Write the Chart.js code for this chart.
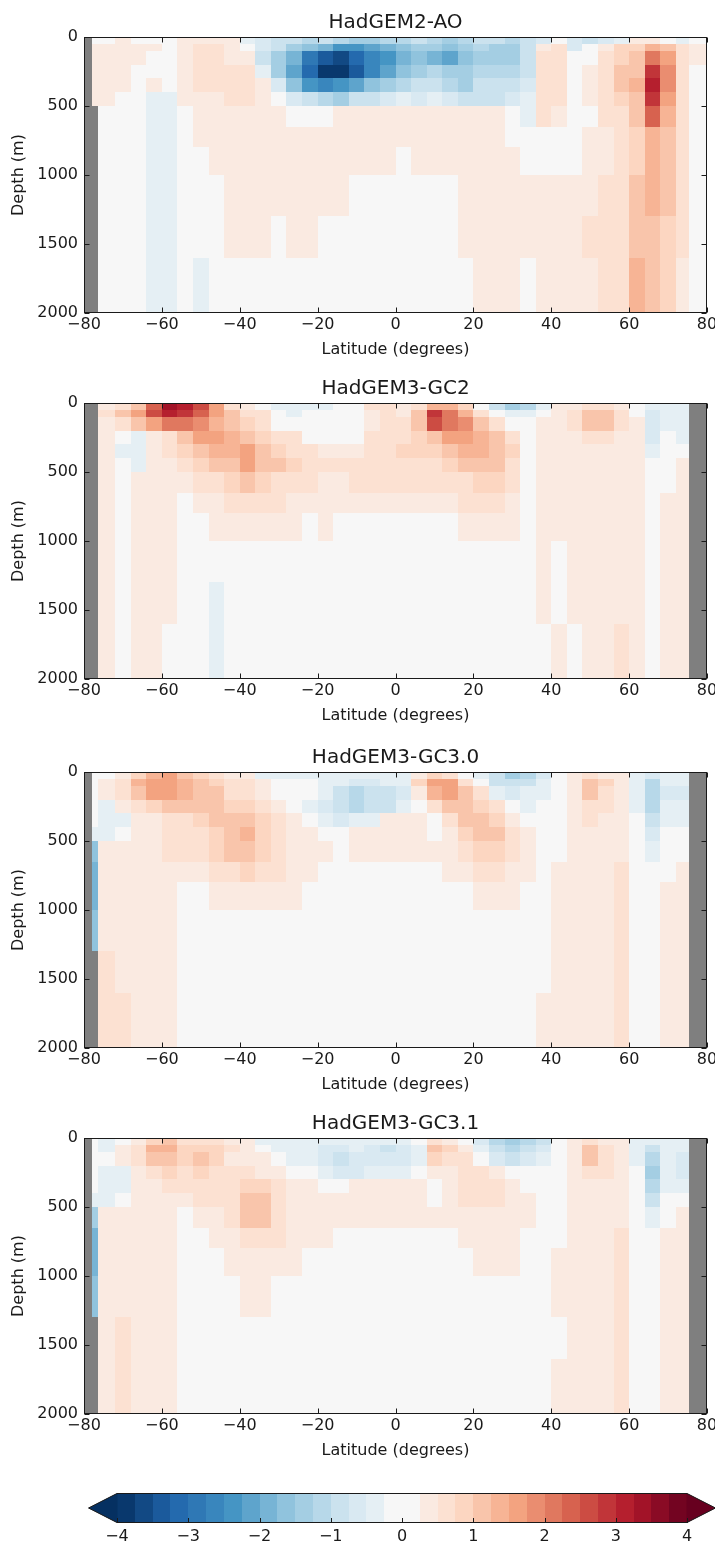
<!DOCTYPE html>
<html lang="en">
  <head>
    <meta charset="UTF-8" />
    <title>Depth-latitude sections</title>
    <script src="https://cdn.jsdelivr.net/npm/chart.js@4.4.0/dist/chart.umd.min.js"></script>
    <style>
      body { margin: 0; background: #fff; }
      #fig { position: relative; width: 715px; height: 1545px; }
      canvas { position: absolute; left: 0; }
    </style>
  </head>
  <body>
    <div id="fig">
      <canvas id="p0" width="715" height="363" style="top: 0px"></canvas>
      <canvas id="p1" width="715" height="363" style="top: 366px"></canvas>
      <canvas id="p2" width="715" height="363" style="top: 735px"></canvas>
      <canvas id="p3" width="715" height="363" style="top: 1101px"></canvas>
      <canvas id="cbar" width="715" height="65" style="top: 1480px"></canvas>
    </div>

    <script>
      const _ = null; // land / no data

      // cell edges of the sections
      const LAT_EDGES = [-80, -78, -76.5, -72, -68, -64, -60, -56, -52, -48, -44, -40, -36, -32, -28, -24, -20, -16, -12, -8, -4,
        0, 4, 8, 12, 16, 20, 24, 28, 32, 36, 40, 44, 48, 52, 56, 60, 64, 68, 72, 75.5, 80];
      const DEPTH_EDGES = [0, 50, 100, 200, 300, 400, 500, 650, 800, 1000, 1300, 1600, 2000];

      const X_TICKS = [-80, -60, -40, -20, 0, 20, 40, 60, 80];
      const Y_TICKS = [0, 500, 1000, 1500, 2000];
      const CBAR_TICKS = [-4, -3, -2, -1, 0, 1, 2, 3, 4];
      const CBAR_LEVELS = [-4, -3.75, -3.5, -3.25, -3, -2.75, -2.5, -2.25, -2, -1.75, -1.5, -1.25, -1, -0.75, -0.5, -0.25,
        0.25, 0.5, 0.75, 1, 1.25, 1.5, 1.75, 2, 2.25, 2.5, 2.75, 3, 3.25, 3.5, 3.75, 4];

      const TITLES = ['HadGEM2-AO', 'HadGEM3-GC2', 'HadGEM3-GC3.0', 'HadGEM3-GC3.1'];

      // one row per depth layer, one value per latitude cell
      const HADGEM2_AO = [
        [_,0, 0,0.3,0,0,0,0.3,0.3,0.3,0.3,-0.4, -0.6,-0.8,-0.9,-1.1,-0.9,-1.1,-1.3,-1.4,-1.2,-1.1, -0.9,-1.1,-1.3,-1.1,-0.9,-1.0,-1.1,-0.8,-0.6,0, -0.7,-0.9,-0.6,-0.4,0.3,0.4,0,-0.4,0],
        [_,0.3, 0.3,0.4,0.3,0.3,0,0.4,0.5,0.5,0.4,0, -0.6,-1.0,-1.3,-1.6,-1.9,-2.3,-2.3,-2.2,-1.8,-1.6, -1.4,-1.5,-1.7,-1.4,-1.2,-1.3,-1.3,-1.0,0.4,0.5, -0.6,0,0.4,0.8,0.9,1.4,1.2,0.6,0.3],
        [_,0.3, 0.3,0.3,0.3,0,0,0.4,0.5,0.5,0.4,0.3, -0.8,-1.4,-2.0,-2.8,-3.4,-3.6,-3.1,-2.6,-2.3,-2.0, -1.7,-1.9,-2.1,-1.6,-1.3,-1.4,-1.3,-1.0,0.6,0.7, 0,0,0.6,0.9,1.1,2.2,1.5,0.6,0.3],
        [_,0.3, 0.3,0.3,0,0,0,0.4,0.5,0.6,0.5,0.5, -0.5,-1.4,-2.2,-3.2,-3.8,-3.9,-3.4,-2.7,-2.1,-1.6, -1.3,-1.2,-1.4,-1.5,-1.2,-1.1,-1.2,-0.9,0.7,0.6, 0,0.3,0.7,1.0,1.2,2.8,1.8,0.6,0],
        [_,0.3, 0.3,0.3,0,0.3,0,0.4,0.5,0.6,0.5,0.6, 0.3,-0.7,-1.6,-2.3,-2.6,-2.5,-2.1,-1.7,-1.4,-1.1, -0.9,-0.9,-1.1,-1.3,-1.0,-0.9,-0.9,-0.7,0.7,0.6, 0,0.3,0.7,1.0,1.3,3.0,1.8,0.6,0],
        [_,0.3, 0.3,0,0,-0.4,-0.4,0.3,0.4,0.4,0.5,0.5, 0.4,0,-0.6,-0.9,-1.2,-1.3,-1.0,-0.9,-0.7,-0.5, -0.6,-0.5,-0.6,-0.8,-0.9,-0.8,-0.6,-0.5,0.6,0.5, 0,0.4,0.7,0.9,1.2,2.8,1.6,0.6,0],
        [_,_, 0,0,0,-0.4,-0.4,0,0.3,0.4,0.4,0.4, 0.4,0.4,0,0,0,0.3,0.3,0.4,0.4,0.4, 0.3,0.3,0.4,0.3,0.3,0.3,0,-0.4,0.5,0.4, 0,0,0.5,0.7,1.0,2.4,1.4,0.6,0],
        [_,_, 0,0,0,-0.4,-0.4,0,0.3,0.3,0.4,0.4, 0.4,0.4,0.4,0.3,0.3,0.4,0.4,0.4,0.4,0.4, 0.4,0.3,0.4,0.4,0.4,0.3,0,0,0,0, 0,0.3,0.4,0.6,0.9,1.4,1.1,0.6,0],
        [_,_, 0,0,0,-0.4,-0.4,0,0,0.3,0.4,0.4, 0.4,0.4,0.4,0.4,0.4,0.4,0.4,0.4,0.3,0, 0.3,0.4,0.4,0.4,0.4,0.3,0.3,0,0,0, 0,0.3,0.4,0.6,0.9,1.3,1.0,0.6,0],
        [_,_, 0,0,0,-0.4,-0.4,0,0,0,0.3,0.4, 0.4,0.4,0.4,0.4,0.3,0.3,0,0,0,0, 0,0,0,0.3,0.3,0.4,0.3,0.4,0.4,0.3, 0.4,0.4,0.5,0.7,1.0,1.3,1.0,0.6,0],
        [_,_, 0,0,0,-0.4,-0.4,0,0,0,0.3,0.3, 0.3,0,0.3,0.3,0,0,0,0,0,0, 0,0,0,0.3,0.3,0.3,0.3,0.3,0.3,0.4, 0.4,0.5,0.6,0.7,1.1,1.2,0.9,0.5,0],
        [_,_, 0,0,0,-0.4,-0.4,0,-0.4,0,0,0, 0,0,0,0,0,0,0,0,0,0, 0,0,0,0,0.3,0.3,0.3,0,0.3,0.4, 0.4,0.4,0.6,0.6,1.3,1.1,0.8,0.4,0]
      ];

      const HADGEM3_GC2 = [
        [_,_, 0.3,0.6,1.0,2.4,3.3,3.2,2.5,1.5,0.7,0.4, 0,-0.4,-0.4,-0.5,-0.4,0,0,0.5,0.6,0.4, 0.6,1.3,1.3,0.9,0,-0.8,-1.3,-1.1,-0.5,0.3, 0.4,0.6,0.6,0.4,0,-0.4,-0.4,-0.3,_],
        [_,_, 0.5,1.0,1.5,2.6,3.0,2.8,2.3,1.6,1.0,0.7, 0.5,0,-0.3,0,0,0,0,0.4,0.6,0.4, 1.2,2.8,2.0,1.4,0.7,0,-0.4,-0.3,0,0.4, 0.6,1.0,1.1,0.6,0,-0.6,-0.4,-0.3,_],
        [_,_, 0.3,0.6,1.0,1.6,2.2,2.1,1.8,1.4,1.0,0.8, 0.6,0,0,0,0,0,0,0.4,0.6,0.6, 1.2,2.6,2.2,1.8,1.2,0.6,0,0,0.3,0.4, 0.5,1.0,1.2,0.6,0.3,-0.7,-0.3,-0.4,_],
        [_,_, 0.3,0,-0.3,0.4,0.7,1.2,1.6,1.6,1.3,1.2, 0.9,0.7,0.5,0,0,0,0,0.5,0.6,0.7, 0.8,1.2,1.5,1.6,1.4,1.0,0.6,0,0.3,0.3, 0.4,0.6,0.7,0.4,0.3,-0.6,0,-0.5,_],
        [_,_, 0.3,-0.3,-0.3,0.4,0.5,0.8,1.1,1.3,1.4,1.6, 1.1,0.9,0.6,0.5,0.4,0.3,0.3,0.6,0.7,0.8, 0.8,0.9,1.1,1.3,1.3,1.1,0.8,0,0.3,0.3, 0.3,0.4,0.4,0.3,0.3,-0.4,0,0,_],
        [_,_, 0.3,0,-0.3,0.3,0.4,0.6,0.8,1.0,1.2,1.6, 1.2,1.0,0.8,0.6,0.5,0.5,0.6,0.7,0.7,0.7, 0.7,0.7,0.8,1.0,1.0,1.0,0.7,0,0.3,0.3, 0.3,0.4,0.4,0.3,0.3,0,0,0.3,_],
        [_,_, 0.3,0,0.3,0.3,0.4,0.4,0.5,0.7,0.9,1.0, 0.9,0.7,0.6,0.5,0.4,0.4,0.5,0.6,0.6,0.5, 0.5,0.5,0.6,0.7,0.8,0.8,0.6,0,0.3,0.3, 0.3,0.4,0.4,0.3,0.3,0,0,0.3,_],
        [_,_, 0.3,0,0.3,0.3,0.4,0,0.4,0.4,0.5,0.6, 0.5,0.5,0.4,0.4,0.4,0.4,0.4,0.4,0.4,0.4, 0.4,0.4,0.4,0.5,0.5,0.5,0.4,0,0.3,0.3, 0.3,0.4,0.4,0.3,0.3,0,0.3,0.3,_],
        [_,_, 0.3,0,0.3,0.3,0.3,0,0,0.3,0.3,0.4, 0.3,0.3,0.3,0,0.3,0,0,0,0,0, 0,0,0,0.3,0.4,0.4,0.3,0,0.3,0.3, 0.3,0.4,0.3,0.3,0.4,0,0.3,0.3,_],
        [_,_, 0.3,0,0.3,0.3,0.3,0,0,0,0,0, 0,0,0,0,0,0,0,0,0,0, 0,0,0,0,0,0,0,0,0.3,0, 0.3,0.4,0.3,0.3,0.4,0,0.3,0.3,_],
        [_,_, 0.3,0,0.3,0.3,0.3,0,0,-0.3,0,0, 0,0,0,0,0,0,0,0,0,0, 0,0,0,0,0,0,0,0,0.3,0, 0.3,0.3,0.3,0.4,0.4,0,0.3,0.3,_],
        [_,_, 0.3,0,0.3,0.3,0,0,0,-0.3,0,0, 0,0,0,0,0,0,0,0,0,0, 0,0,0,0,0,0,0,0,0,0.3, 0,0.3,0.3,0.5,0.3,0,0.3,0.3,_]
      ];

      const HADGEM3_GC30 = [
        [_,0, 0,0.3,0.9,1.4,1.5,1.1,0.8,0.6,0.4,0.3, -0.3,-0.4,-0.4,-0.4,-0.3,-0.4,-0.3,-0.3,-0.4,-0.3, 0.3,0.9,0.6,0,-0.5,-1.0,-1.3,-1.2,-0.6,0, 0.3,0.6,0.4,0.3,-0.3,-0.6,-0.4,-0.3,_],
        [_,0, 0.3,0.7,1.3,1.7,1.7,1.4,1.1,0.9,0.6,0.5, 0.3,0,0,0,-0.3,-0.5,-0.6,-0.6,-0.5,-0.4, 0.8,1.7,1.5,0.6,0,-0.8,-1.0,-0.8,-0.4,0, 0.4,1.1,0.8,0.4,-0.4,-1.1,-0.5,-0.4,_],
        [_,0, 0.3,0.5,1.1,1.5,1.5,1.3,1.2,1.0,0.7,0.5, 0.4,0,0,0,-0.5,-0.9,-1.1,-0.9,-0.8,-0.6, 0.4,1.4,1.6,1.1,0.5,-0.3,-0.6,-0.5,-0.3,0, 0.4,1.1,0.7,0.4,-0.4,-1.2,-0.6,-0.6,_],
        [_,0, -0.4,0.3,0.5,0.8,1.0,1.1,1.1,1.0,0.9,0.8, 0.6,0.3,0,-0.3,-0.6,-1.0,-1.1,-0.8,-0.9,-0.5, 0,0.5,1.1,1.2,0.9,0.5,0,-0.3,0,0, 0.4,0.7,0.5,0.4,-0.3,-1.1,-0.5,-0.5,_],
        [_,0, -0.4,-0.3,0.3,0.4,0.6,0.7,0.8,1.0,1.1,1.2, 0.9,0.5,0.3,0,-0.4,-0.6,-0.5,-0.3,0.4,0.4, 0.3,0,0.5,1.0,1.2,0.8,0.4,0,0,0, 0.3,0.5,0.4,0.4,0,-0.9,-0.3,-0.3,_],
        [_,-0.5, -0.3,0,0.3,0.4,0.5,0.6,0.7,0.9,1.1,1.3, 0.9,0.6,0.4,0.3,0,0,0.3,0.4,0.4,0.4, 0.4,0,0.3,0.8,1.1,1.0,0.5,0.3,0,0, 0.3,0.4,0.4,0.4,0,-0.6,0,0,_],
        [_,-1.6, 0.3,0.3,0.3,0.4,0.5,0.5,0.6,0.8,1.0,1.2, 0.9,0.6,0.4,0.3,0.3,0,0.4,0.4,0.4,0.4, 0.3,0.3,0.3,0.6,0.8,0.9,0.5,0.3,0,0, 0.3,0.4,0.4,0.4,0,-0.4,0,0,_],
        [_,-2.0, 0.3,0.4,0.3,0.4,0.4,0.4,0.4,0.5,0.6,0.8, 0.7,0.5,0.4,0.3,0,0,0,0,0,0, 0,0,0.3,0.4,0.5,0.6,0.4,0.3,0,0.3, 0.3,0.4,0.4,0.5,0,0,0,0.3,_],
        [_,-2.0, 0.3,0.4,0.4,0.4,0.3,0,0,0.3,0.4,0.4, 0.4,0.3,0.3,0,0,0,0,0,0,0, 0,0,0,0,0.3,0.4,0.3,0,0,0.3, 0.3,0.4,0.4,0.5,0,0,0.3,0.3,_],
        [_,-1.6, 0.3,0.4,0.4,0.3,0.3,0,0,0,0,0, 0,0,0,0,0,0,0,0,0,0, 0,0,0,0,0,0,0,0,0,0.3, 0.3,0.3,0.4,0.5,0,0,0.3,0.3,_],
        [_,_, 0.5,0.4,0.4,0.3,0.3,0,0,0,0,0, 0,0,0,0,0,0,0,0,0,0, 0,0,0,0,0,0,0,0,0,0.3, 0.3,0.3,0.3,0.5,0,0,0.3,0.3,_],
        [_,_, 0.5,0.5,0.4,0.3,0.3,0,0,0,0,0, 0,0,0,0,0,0,0,0,0,0, 0,0,0,0,0,0,0,0,0.3,0.3, 0.3,0.3,0.3,0.6,0,0,0.3,0.3,_]
      ];

      const HADGEM3_GC31 = [
        [_,0, -0.3,0,0.3,0.9,1.0,0.6,0.5,0.5,0.3,0.3, -0.3,-0.3,-0.4,-0.4,-0.3,-0.3,-0.3,-0.3,-0.4,-0.3, 0,0.6,0.4,0,-0.6,-1.1,-1.4,-1.2,-0.8,0, 0.3,0.5,0.4,0.3,-0.3,-0.5,-0.3,-0.3,_],
        [_,0, -0.3,0.3,0.6,1.3,1.3,0.9,0.9,0.9,0.5,0.3, 0,-0.3,-0.3,-0.5,-0.6,-0.6,-0.5,-0.6,-0.8,-0.7, -0.3,1.1,0.8,0.3,-0.3,-0.9,-1.1,-0.9,-0.6,0, 0.4,1.1,0.7,0.4,-0.3,-0.9,-0.4,-0.4,_],
        [_,0, 0,0.3,0.6,1.1,1.2,0.8,1.0,0.9,0.4,0.3, 0.3,0,-0.3,-0.5,-0.7,-0.8,-0.7,-0.6,-0.7,-0.6, -0.4,0.8,0.6,0.5,0,-0.6,-0.8,-0.7,-0.5,0, 0.4,1.0,0.6,0.4,-0.3,-1.2,-0.5,-0.6,_],
        [_,0, -0.4,-0.4,0.4,0.7,0.8,0.6,0.8,0.7,0.5,0.5, 0.4,0.3,0,0,-0.4,-0.6,-0.6,-0.4,-0.4,-0.3, 0,0.3,0.4,0.6,0.5,0.3,0,0,0,0, 0.3,0.6,0.5,0.4,0,-1.3,-0.5,-0.7,_],
        [_,0, -0.4,-0.3,0.3,0.4,0.5,0.5,0.5,0.6,0.6,0.8, 0.9,0.6,0.4,0.3,0,0,0.3,0.4,0.4,0.4, 0.3,0,0.3,0.5,0.6,0.5,0.4,0,0,0, 0.3,0.4,0.4,0.4,0,-1.1,-0.3,-0.4,_],
        [_,-0.5, -0.3,0,0.3,0.4,0.4,0.4,0.5,0.5,0.6,1.0, 1.0,0.6,0.4,0.4,0.3,0.3,0.4,0.4,0.4,0.4, 0.4,0,0.3,0.5,0.5,0.5,0.4,0.3,0,0, 0.3,0.4,0.4,0.4,0,-0.8,0,0,_],
        [_,-1.4, 0.3,0.3,0.3,0.4,0.4,0,0.4,0.4,0.5,1.1, 1.0,0.6,0.4,0.4,0.3,0.3,0.4,0.4,0.4,0.3, 0.3,0.3,0.4,0.4,0.4,0.4,0.4,0.3,0,0, 0.3,0.4,0.4,0.4,0,-0.5,0,0.3,_],
        [_,-2.0, 0.3,0.3,0.4,0.3,0.3,0,0,0.3,0.4,0.7, 0.6,0.5,0.4,0.3,0.3,0,0,0,0,0, 0,0,0,0.3,0.4,0.4,0.3,0,0,0, 0.3,0.4,0.4,0.5,0,0,0.3,0.3,_],
        [_,-2.0, 0.3,0.4,0.4,0.3,0.3,0,0,0,0.3,0.4, 0.4,0.3,0.3,0,0,0,0,0,0,0, 0,0,0,0,0.3,0.3,0.3,0,0,0.3, 0.3,0.4,0.4,0.5,0,0,0.3,0.3,_],
        [_,-1.6, 0.3,0.4,0.4,0.3,0.3,0,0,0,0,0.3, 0.3,0,0,0,0,0,0,0,0,0, 0,0,0,0,0,0,0,0,0,0.3, 0.3,0.3,0.4,0.5,0,0,0.3,0.3,_],
        [_,_, 0.4,0.5,0.4,0.3,0.3,0,0,0,0,0, 0,0,0,0,0,0,0,0,0,0, 0,0,0,0,0,0,0,0,0,0, 0.3,0.3,0.3,0.5,0,0,0.3,0.3,_],
        [_,_, 0.4,0.5,0.4,0.3,0.3,0,0,0,0,0, 0,0,0,0,0,0,0,0,0,0, 0,0,0,0,0,0,0,0,0,0.3, 0.3,0.3,0.3,0.6,0,0,0.3,0.3,_]
      ];

      // RdBu_r anchor colours
      const RDBU_R = ['#053061', '#2166ac', '#4393c3', '#92c5de', '#d1e5f0', '#f7f7f7',
        '#fddbc7', '#f4a582', '#d6604d', '#b2182b', '#67001f'];
      const LAND = '#7f7f7f';
      const INK = '#1a1a1a';

      const RGB = RDBU_R.map((h) => [1, 3, 5].map((i) => parseInt(h.slice(i, i + 2), 16)));

      function cmap(t) {
        t = Math.max(0, Math.min(1, t));
        const s = t * (RGB.length - 1);
        const i = Math.min(RGB.length - 2, Math.floor(s));
        const f = s - i;
        const c = RGB[i].map((a, k) => Math.round(a + (RGB[i + 1][k] - a) * f));
        return `rgb(${c[0]},${c[1]},${c[2]})`;
      }

      // which contour band a value falls in (-1 = below, last = above)
      function bandOf(v) {
        if (v < CBAR_LEVELS[0]) return -1;
        for (let i = 0; i < CBAR_LEVELS.length - 1; i++) {
          if (v < CBAR_LEVELS[i + 1]) return i;
        }
        return CBAR_LEVELS.length - 1;
      }

      // band colour from the band midpoint, like contourf does
      function bandColor(i) {
        const lo = CBAR_LEVELS[0], hi = CBAR_LEVELS[CBAR_LEVELS.length - 1];
        if (i < 0) return cmap(0);
        if (i >= CBAR_LEVELS.length - 1) return cmap(1);
        const mid = (CBAR_LEVELS[i] + CBAR_LEVELS[i + 1]) / 2;
        return cmap((mid - lo) / (hi - lo));
      }

      const fmt = (v) => String(v).replace('-', '\u2212');

      Chart.defaults.font.family = "'DejaVu Sans', sans-serif";
      Chart.defaults.font.size = 16;
      Chart.defaults.color = INK;

      // draws the section cells, then the frame with inward ticks
      const sectionPlugin = (grid) => ({
        id: 'section',
        beforeDatasetsDraw(chart) {
          const { ctx, scales: { x, y } } = chart;
          ctx.save();
          for (let r = 0; r < DEPTH_EDGES.length - 1; r++) {
            const y0 = Math.round(y.getPixelForValue(DEPTH_EDGES[r]));
            const y1 = Math.round(y.getPixelForValue(DEPTH_EDGES[r + 1]));
            for (let c = 0; c < LAT_EDGES.length - 1; c++) {
              const x0 = Math.round(x.getPixelForValue(LAT_EDGES[c]));
              const x1 = Math.round(x.getPixelForValue(LAT_EDGES[c + 1]));
              const v = grid[r][c];
              ctx.fillStyle = v === null ? LAND : bandColor(bandOf(v === undefined ? 0 : v));
              ctx.fillRect(x0, y0, x1 - x0, y1 - y0);
            }
          }
          ctx.restore();
        },
        afterDraw(chart) {
          const { ctx, chartArea: a, scales: { x, y } } = chart;
          const L = Math.round(a.left) + 0.5, R = Math.round(a.right) - 0.5;
          const T = Math.round(a.top) + 0.5, B = Math.round(a.bottom) - 0.5;
          ctx.save();
          ctx.strokeStyle = INK;
          ctx.lineWidth = 1;
          ctx.beginPath();
          X_TICKS.forEach((t) => {
            const px = Math.round(x.getPixelForValue(t)) + 0.5;
            ctx.moveTo(px, B); ctx.lineTo(px, B - 5);
            ctx.moveTo(px, T); ctx.lineTo(px, T + 5);
          });
          Y_TICKS.forEach((t) => {
            const py = Math.round(y.getPixelForValue(t)) + 0.5;
            ctx.moveTo(L, py); ctx.lineTo(L + 5, py);
            ctx.moveTo(R, py); ctx.lineTo(R - 5, py);
          });
          ctx.stroke();
          ctx.strokeRect(L, T, R - L, B - T);
          ctx.restore();
        }
      });

      function makePanel(id, title, grid) {
        new Chart(document.getElementById(id), {
          type: 'scatter',
          data: { datasets: [{ data: [] }] },
          options: {
            responsive: false,
            animation: false,
            events: [],
            layout: { padding: { left: 0, right: 8, top: 0, bottom: 0 } },
            plugins: {
              legend: { display: false },
              tooltip: { enabled: false },
              title: {
                display: true,
                fullSize: false,
                text: title,
                color: INK,
                font: { size: 20, weight: 'normal', lineHeight: 1.2 },
                padding: { top: 11, bottom: 2 }
              }
            },
            scales: {
              x: {
                type: 'linear',
                min: -80,
                max: 80,
                afterBuildTicks: (s) => { s.ticks = X_TICKS.map((v) => ({ value: v })); },
                afterFit: (s) => { s.height = 50; s.paddingLeft = 0; s.paddingRight = 0; },
                grid: { display: false, drawTicks: false },
                border: { display: false },
                ticks: { autoSkip: false, maxRotation: 0, minRotation: 0, padding: 2, callback: fmt },
                title: { display: true, text: 'Latitude (degrees)', padding: { top: 0, bottom: 3.4 } }
              },
              y: {
                type: 'linear',
                min: 0,
                max: 2000,
                reverse: true,
                afterBuildTicks: (s) => { s.ticks = Y_TICKS.map((v) => ({ value: v })); },
                afterFit: (s) => { s.width = 84; s.paddingTop = 0; s.paddingBottom = 0; },
                grid: { display: false, drawTicks: false },
                border: { display: false },
                ticks: { autoSkip: false, padding: 6, callback: fmt },
                title: { display: true, text: 'Depth (m)', padding: { top: 9, bottom: 0 } }
              }
            }
          },
          plugins: [sectionPlugin(grid)]
        });
      }

      makePanel('p0', TITLES[0], HADGEM2_AO);
      makePanel('p1', TITLES[1], HADGEM3_GC2);
      makePanel('p2', TITLES[2], HADGEM3_GC30);
      makePanel('p3', TITLES[3], HADGEM3_GC31);

      // colour bar with triangular ends
      const colorbarPlugin = {
        id: 'colorbar',
        beforeDatasetsDraw(chart) {
          const { ctx, chartArea: a, scales: { x } } = chart;
          const ext = 0.05 * (a.right - a.left);
          const mid = (a.top + a.bottom) / 2;
          ctx.save();
          for (let i = 0; i < CBAR_LEVELS.length - 1; i++) {
            const x0 = Math.round(x.getPixelForValue(CBAR_LEVELS[i]));
            const x1 = Math.round(x.getPixelForValue(CBAR_LEVELS[i + 1]));
            ctx.fillStyle = bandColor(i);
            ctx.fillRect(x0, a.top, x1 - x0, a.bottom - a.top);
          }
          ctx.fillStyle = bandColor(-1);
          ctx.beginPath();
          ctx.moveTo(a.left + 0.5, a.top); ctx.lineTo(a.left - ext, mid); ctx.lineTo(a.left + 0.5, a.bottom);
          ctx.closePath(); ctx.fill();
          ctx.fillStyle = bandColor(CBAR_LEVELS.length - 1);
          ctx.beginPath();
          ctx.moveTo(a.right - 0.5, a.top); ctx.lineTo(a.right + ext, mid); ctx.lineTo(a.right - 0.5, a.bottom);
          ctx.closePath(); ctx.fill();

          ctx.strokeStyle = INK;
          ctx.lineWidth = 1;
          ctx.beginPath();
          ctx.moveTo(a.left, a.top + 0.5); ctx.lineTo(a.right, a.top + 0.5);
          ctx.lineTo(a.right + ext, mid); ctx.lineTo(a.right, a.bottom - 0.5);
          ctx.lineTo(a.left, a.bottom - 0.5); ctx.lineTo(a.left - ext, mid);
          ctx.closePath();
          ctx.stroke();
          ctx.beginPath();
          CBAR_TICKS.forEach((t) => {
            const px = Math.round(x.getPixelForValue(t)) + 0.5;
            ctx.moveTo(px, a.bottom); ctx.lineTo(px, a.bottom - 5);
          });
          ctx.stroke();
          ctx.restore();
        }
      };

      new Chart(document.getElementById('cbar'), {
        type: 'scatter',
        data: { datasets: [{ data: [] }] },
        options: {
          responsive: false,
          animation: false,
          events: [],
          layout: { padding: { left: 117, right: 28, top: 13, bottom: 0 } },
          plugins: { legend: { display: false }, tooltip: { enabled: false } },
          scales: {
            x: {
              type: 'linear',
              min: -4,
              max: 4,
              afterBuildTicks: (s) => { s.ticks = CBAR_TICKS.map((v) => ({ value: v })); },
              afterFit: (s) => { s.height = 22; s.paddingLeft = 0; s.paddingRight = 0; },
              grid: { display: false, drawTicks: false },
              border: { display: false },
              ticks: { autoSkip: false, maxRotation: 0, minRotation: 0, padding: 4, callback: fmt }
            },
            y: { display: false, min: 0, max: 1 }
          }
        },
        plugins: [colorbarPlugin]
      });
    </script>
  </body>
</html>
